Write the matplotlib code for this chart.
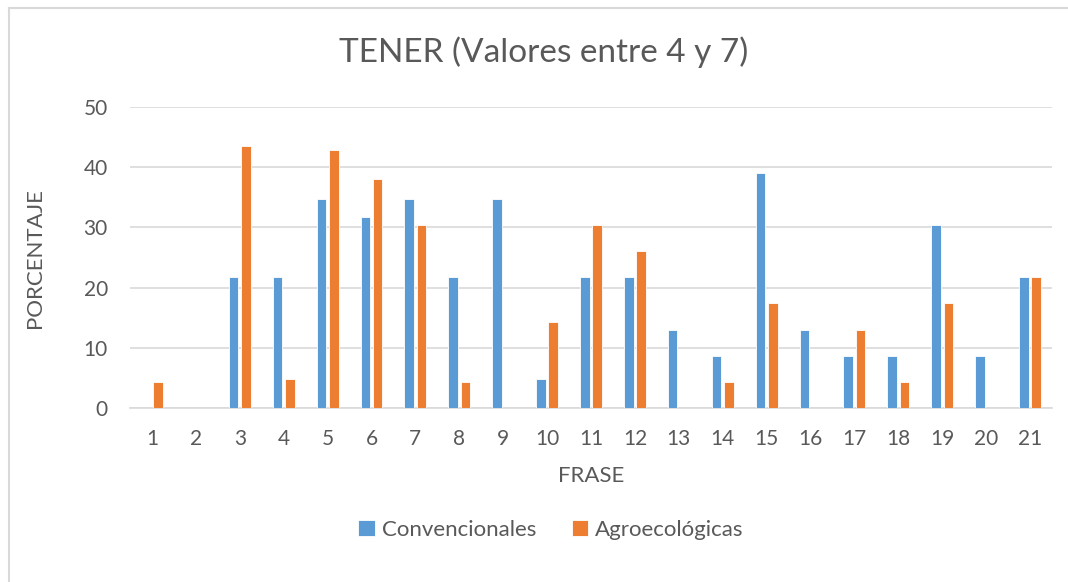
import numpy as np
import matplotlib.pyplot as plt
from matplotlib.lines import Line2D

frases = [str(i) for i in range(1, 22)]
convencionales = [0, 0, 21.7, 21.7, 34.8, 31.8, 34.8, 21.7, 34.8, 4.8, 21.7,
                  21.7, 13.0, 8.7, 39.1, 13.0, 8.7, 8.7, 30.4, 8.7, 21.7]
agroecologicas = [4.3, 0, 43.5, 4.8, 42.9, 38.1, 30.4, 4.3, 0, 14.3, 30.4,
                  26.1, 0, 4.3, 17.4, 0, 13.0, 4.3, 17.4, 0, 21.7]

plt.rcParams['font.family'] = ['Lato', 'DejaVu Sans']
txt = '#595959'

fig = plt.figure(figsize=(10.68, 5.82), dpi=100)
W, H = 1068, 582
ax = fig.add_axes([130 / W, 1 - 408 / H, (1052 - 130) / W, (408 - 107) / H])

x = np.arange(1, 22)
w = 0.22
ax.bar(x - 0.14, convencionales, w, color='#5B9BD5', edgecolor='white', lw=0.6, label='Convencionales', zorder=3)
ax.bar(x + 0.14, agroecologicas, w, color='#ED7D31', edgecolor='white', lw=0.6, label='Agroecológicas', zorder=3)

ax.set_xlim(0.5, 21.5)
ax.set_ylim(0, 50)
ax.set_yticks(np.arange(0, 51, 10))
ax.set_xticks(x)
ax.set_xticklabels(frases)
ax.grid(axis='y', color='#D9D9D9', lw=1.2, zorder=0)
for s in ['top', 'right', 'left']:
    ax.spines[s].set_visible(False)
ax.spines['bottom'].set_color('#D9D9D9')
ax.spines['bottom'].set_linewidth(1.2)
ax.tick_params(length=0, labelsize=15, colors=txt)
ax.tick_params(axis='x', pad=15)
ax.tick_params(axis='y', pad=16)

ax.set_xlabel('FRASE', fontsize=16, color=txt, labelpad=12)
fig.text(35 / W, 1 - 258 / H, 'PORCENTAJE', fontsize=16, color=txt,
         rotation=90, ha='center', va='center')
fig.text(544 / W, 1 - 52 / H, 'TENER (Valores entre 4 y 7)', fontsize=24,
         color=txt, ha='center', va='center')

h, l = ax.get_legend_handles_labels()
fig.legend(h, l, loc='center', bbox_to_anchor=(551 / W, 1 - 530 / H), ncol=2,
           frameon=False, fontsize=16, labelcolor=txt, handlelength=0.75,
           handleheight=0.75, handletextpad=0.3, columnspacing=1.6)

# chart area border (cut at the image edge)
fig.add_artist(Line2D([9 / W, 1], [1 - 8 / H, 1 - 8 / H], color='#D9D9D9', lw=1.5, transform=fig.transFigure))
fig.add_artist(Line2D([9 / W, 9 / W], [1 - 8 / H, 0], color='#D9D9D9', lw=1.5, transform=fig.transFigure))

fig.savefig('out.png', dpi=100)
